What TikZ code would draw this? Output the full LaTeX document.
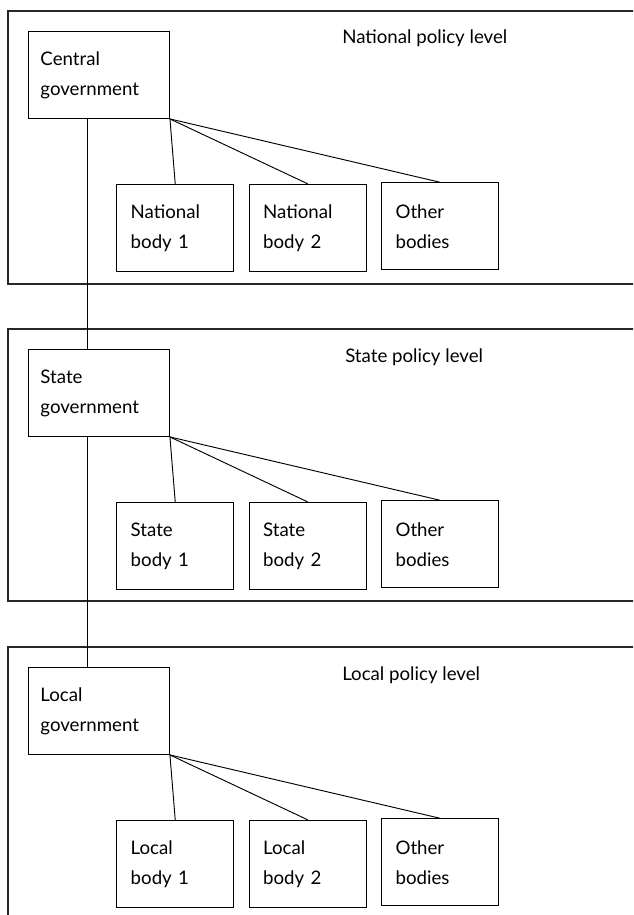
\documentclass[tikz,border=0pt]{standalone}
\usepackage{fontspec}
\setmainfont{Lato}
\usetikzlibrary{matrix}

\tikzset{
  panel/.style={draw=black!85, line width=1pt},
  link/.style={line width=0.7pt},
  govbox/.style={draw, line width=0.7pt, anchor=north west, align=left, text width=87.75pt, minimum width=105.75pt, minimum height=65.25pt, inner xsep=9pt, font=\fontsize{14}{22.5}\selectfont},
  levellabel/.style={anchor=base west, inner sep=0pt, font=\fontsize{14}{17}\selectfont},
  bodyrow/.style={
    matrix of nodes,
    anchor=north west,
    inner sep=0pt,
    nodes={draw, line width=0.7pt, align=left, text width=66.75pt, minimum width=87.75pt, minimum height=65.25pt, inner xsep=10.5pt, font=\fontsize{14}{22.5}\selectfont},
    column sep=10.875pt
  }
}

\begin{document}
\begin{tikzpicture}[x=0.75pt, y=-0.75pt]

\useasboundingbox (0,0) rectangle (633,915);
\clip (0,0) rectangle (633,915);

\draw[panel] (8,11) rectangle (650,284);
\draw[panel] (8,329) rectangle (650,601);
\draw[panel] (8,647) rectangle (650,940);

\node[levellabel] (natlabel) at (342,43) {National policy level};
\node[levellabel] (statelabel) at (345,362) {State policy level};
\node[levellabel] (locallabel) at (342,680) {Local policy level};

\node[govbox] (centralgov) at (28,31) {Central\\government};
\node[govbox] (stategov) at (28,349) {State\\government};
\node[govbox] (localgov) at (28,667) {Local\\government};

\matrix (natbodies) [bodyrow] at (116,182)
{
  {National\\body 1} & {National\\body 2} & {Other\\bodies} \\
};

\matrix (statebodies) [bodyrow] at (116,500)
{
  {State\\body 1} & {State\\body 2} & {Other\\bodies} \\
};

\matrix (localbodies) [bodyrow] at (116,818)
{
  {Local\\body 1} & {Local\\body 2} & {Other\\bodies} \\
};

\draw[link] ([xshift=44.25pt]centralgov.south west) -- ([xshift=44.25pt]stategov.north west);
\draw[link] ([xshift=44.25pt]stategov.south west) -- ([xshift=44.25pt]localgov.north west);

\draw[link] (centralgov.south east) -- (natbodies-1-1.north);
\draw[link] (centralgov.south east) -- (natbodies-1-2.north);
\draw[link] (centralgov.south east) -- (natbodies-1-3.north);

\draw[link] (stategov.south east) -- (statebodies-1-1.north);
\draw[link] (stategov.south east) -- (statebodies-1-2.north);
\draw[link] (stategov.south east) -- (statebodies-1-3.north);

\draw[link] (localgov.south east) -- (localbodies-1-1.north);
\draw[link] (localgov.south east) -- (localbodies-1-2.north);
\draw[link] (localgov.south east) -- (localbodies-1-3.north);

\end{tikzpicture}
\end{document}
